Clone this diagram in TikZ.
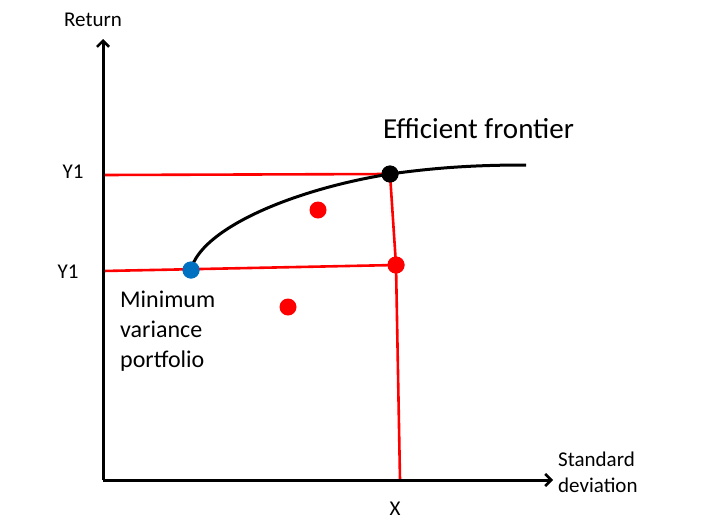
\documentclass[tikz,border=0pt]{standalone}
\usepackage{fontspec}
\setmainfont{Carlito}
\usetikzlibrary{arrows.meta}
\begin{document}
\begin{tikzpicture}[x=1pt,y=-1pt,
  axis/.style={line width=3pt,-{Straight Barb[length=6pt,width=12pt,line width=2.6pt]}},
  redline/.style={red,line width=2.6pt},
  dot/.style={circle,inner sep=0pt,minimum size=17pt},
  lbl/.style={font=\fontsize{21}{25}\selectfont,inner sep=0pt},
  big/.style={font=\fontsize{29}{34}\selectfont,inner sep=0pt}]
\useasboundingbox (0,0) rectangle (719,525);
\coordinate (O) at (103,480);
\coordinate (ytop) at (103,39);
\coordinate (xend) at (553,480);
\coordinate (y1a) at (103,175);
\coordinate (y1b) at (103,271);
\coordinate (xb) at (400,480);
\coordinate (fend) at (526,165);
\node[dot,fill=black] (eff) at (390,174) {};
\node[dot,fill={rgb,255:red,0;green,112;blue,192}] (mvp) at (191,270) {};
\node[dot,fill=red] (p2) at (396,265) {};
\node[dot,fill=red] (p1) at (318,210) {};
\node[dot,fill=red] (p3) at (288,307) {};
\draw[redline] (y1a) -- (eff.center);
\draw[redline] (y1b) -- (p2.center);
\draw[redline] (eff.center) -- (p2.center) -- (xb);
\draw[line width=3pt] (mvp.center) .. controls (200,230) and (290,190) .. (eff.center)
  .. controls (440,167) and (480,165) .. (fend);
\node[dot,fill=black] at (eff) {};
\node[dot,fill={rgb,255:red,0;green,112;blue,192}] at (mvp) {};
\node[dot,fill=red] at (p2) {};
\draw[axis] (O) -- (ytop);
\draw[axis] (O) -- (xend);
\node[lbl] (ret) at (93,20) {Return};
\node[lbl] (ya) at (73,172) {Y1};
\node[lbl] (yb) at (68,272) {Y1};
\node[lbl] (xl) at (395,509) {X};
\node[big,anchor=west] (eft) at (383,129) {Efficient frontier};
\node[lbl,anchor=north west,align=left,font=\fontsize{24}{30}\selectfont] (mvl) at (120,291) {Minimum\\variance\\portfolio};
\node[lbl,anchor=north west,align=left,font=\fontsize{21}{26}\selectfont] (sdl) at (558,452) {Standard\\deviation};
\end{tikzpicture}
\end{document}
